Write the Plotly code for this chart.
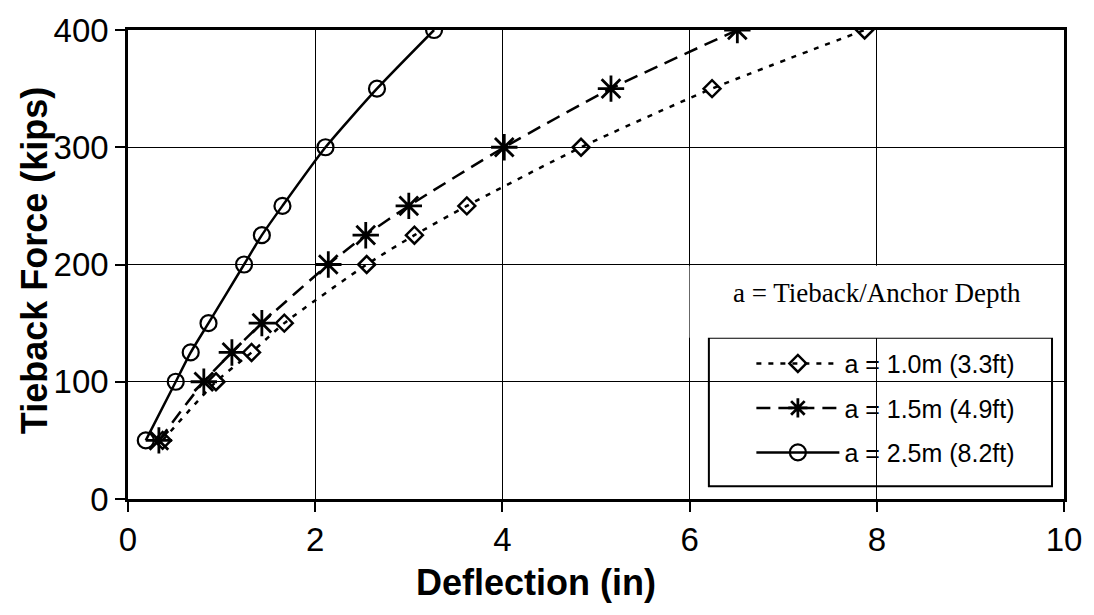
import plotly.graph_objects as go

force = [50, 100, 125, 150, 200, 225, 250, 300, 350, 400]
defl_10 = [0.37, 0.94, 1.32, 1.67, 2.55, 3.06, 3.62, 4.84, 6.24, 7.87]
defl_15 = [0.33, 0.81, 1.11, 1.43, 2.14, 2.54, 3.00, 4.02, 5.16, 6.51]
defl_25 = [0.19, 0.51, 0.67, 0.86, 1.24, 1.43, 1.65, 2.11, 2.66, 3.27]
names = ["a = 1.0m (3.3ft)", "a = 1.5m (4.9ft)", "a = 2.5m (8.2ft)"]
x_ticks = [0, 2, 4, 6, 8, 10]
y_ticks = [0, 100, 200, 300, 400]

fig = go.Figure()
fig.add_trace(go.Scatter(
    x=defl_10, y=force, name=names[0], mode="lines+markers", legendgroup="g1",
    line=dict(color="black", width=2.5, dash="5px,7px", shape="spline", smoothing=0.6),
    marker=dict(symbol="diamond-open", size=13, color="black", line=dict(width=2.5, color="black")),
))
fig.add_trace(go.Scatter(
    x=defl_15, y=force, name=names[1], mode="lines+markers", legendgroup="g2",
    line=dict(color="black", width=2.5, dash="14px,8px", shape="spline", smoothing=0.6),
    marker=dict(symbol="asterisk-open", size=22, color="black", line=dict(width=2.8, color="black")),
))
fig.add_trace(go.Scatter(
    x=defl_25, y=force, name=names[2], mode="lines+markers", legendgroup="g3",
    line=dict(color="black", width=2.5, shape="spline", smoothing=0.6),
    marker=dict(symbol="circle-open", size=16, color="black", line=dict(width=2.2, color="black")),
))

# white text box behind the note
fig.add_shape(type="rect", xref="x", yref="y", x0=6.0, x1=9.98, y0=137.5, y1=199,
              fillcolor="white", line=dict(width=0), layer="between")
# legend frame
fig.add_shape(type="rect", xref="paper", yref="paper", x0=0.6206, x1=0.9872, y0=0.0274, y1=0.3439,
              fillcolor="white", line=dict(width=2, color="black"), layer="between")

fig.add_annotation(x=8.0, y=176, xref="x", yref="y", text="a = Tieback/Anchor Depth",
                   showarrow=False, font=dict(family="Liberation Serif", size=27, color="black"))
fig.add_annotation(x=0.436, y=-0.178, xref="paper", yref="paper", text="<b>Deflection (in)</b>",
                   showarrow=False, xanchor="center", yanchor="middle",
                   font=dict(family="Liberation Sans", size=36, color="black"))
fig.add_annotation(x=-0.100, y=0.508, xref="paper", yref="paper", text="<b>Tieback Force (kips)</b>",
                   showarrow=False, textangle=-90, xanchor="center", yanchor="middle",
                   font=dict(family="Liberation Sans", size=36, color="black"))

axis_common = dict(
    showline=True, linecolor="black", linewidth=2.5, mirror=True,
    showgrid=True, gridcolor="black", gridwidth=1,
    ticks="outside", ticklen=10, tickcolor="black", tickwidth=1.5,
    zeroline=False,
    tickfont=dict(family="Liberation Sans", size=33, color="black"),
)

fig.update_xaxes(range=[0, 10], tickvals=x_ticks, ticktext=[str(v) for v in x_ticks], **axis_common)
fig.update_yaxes(range=[0, 400], tickvals=y_ticks, ticktext=[str(v) for v in y_ticks], **axis_common)

fig.update_layout(
    width=1094, height=615,
    margin=dict(l=128, r=25, t=25, b=116),
    paper_bgcolor="white", plot_bgcolor="white",
    font=dict(family="Liberation Sans", color="black"),
    legend=dict(
        x=0.666, y=0.3376, xanchor="left", yanchor="top",
        bgcolor="rgba(0,0,0,0)", borderwidth=0,
        font=dict(family="Liberation Sans", size=25, color="black"),
        itemwidth=83, tracegroupgap=9, traceorder="grouped",
    ),
)

fig.write_html("out.html", config={"displayModeBar": False},
               post_script="document.body.style.margin='0px';document.body.style.overflow='hidden';")
